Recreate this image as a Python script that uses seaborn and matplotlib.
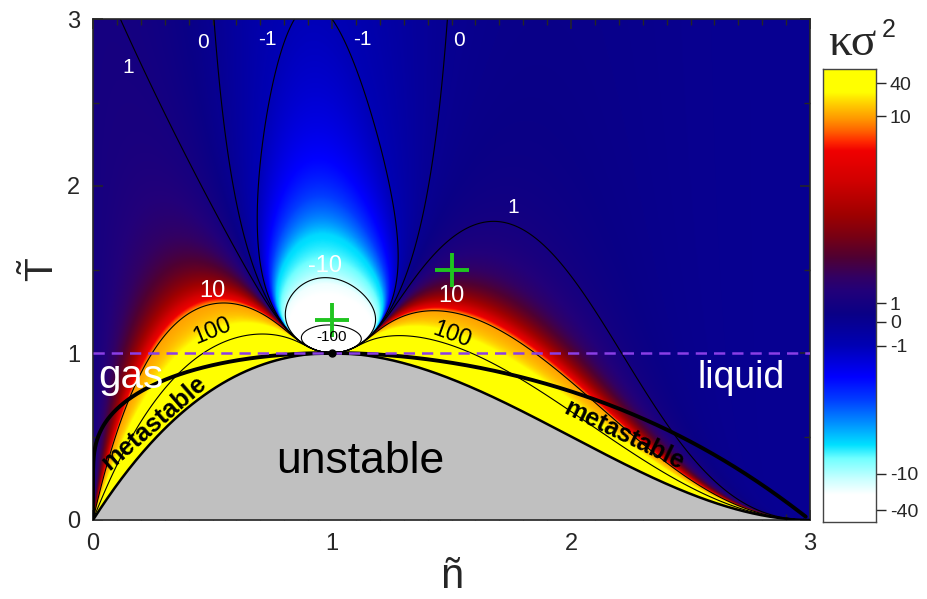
"""
Kurtosis (kappa sigma^2) of particle number fluctuations for the
van der Waals fluid in the reduced (n, T) plane
"""
import numpy as np
import pandas as pd
import seaborn as sns
import matplotlib
matplotlib.use('Agg')
import matplotlib.pyplot as plt
from matplotlib.colors import LinearSegmentedColormap

sns.set_style('ticks')
plt.rcParams['font.family'] = ['Liberation Sans', 'DejaVu Sans']
plt.rcParams['mathtext.fontset'] = 'custom'
plt.rcParams['mathtext.rm'] = 'Liberation Sans'

# contour levels drawn as thin black lines
contour_levels = [-100, -10, -1, 0, 1, 10, 100]

# non-linear colour bar: tick value -> position along the bar
cbar_values = [-50, -40, -10, -1, 0, 1, 10, 40, 53]
cbar_positions = [0.0, 0.026, 0.106, 0.389, 0.442, 0.483, 0.896, 0.969, 1.0]
cbar_ticks = [-40, -10, -1, 0, 1, 10, 40]

# colour used inside the map (the negative lobe is lighter than the bar suggests)
map_values = [-50, -12, -7.4, -4.2, -2.8, -1.4, -1, 0, 1, 10, 40, 53]
map_positions = [0.0, 0.07, 0.125, 0.175, 0.26, 0.36, 0.389, 0.442, 0.483, 0.896, 0.969, 1.0]

# colour stops
stop_pos = [0.0, 0.06, 0.095, 0.14, 0.17, 0.22, 0.27, 0.32, 0.39, 0.46,
            0.51, 0.54, 0.585, 0.63, 0.68, 0.755, 0.82, 0.84, 0.865, 0.89,
            0.92, 0.95, 1.0]
stop_col = ['#ffffff', '#ffffff', '#c8ffff', '#70ffff', '#00e0ff', '#008cff',
            '#003cff', '#0000ff', '#0000b4', '#0a0086', '#22007a', '#320064',
            '#500032', '#780014', '#a00000', '#d20000', '#f00000', '#ff2800',
            '#ff6400', '#ff9600', '#ffc800', '#ffff00', '#ffff00']

# marked points
cross_n = [1.0, 1.5]
cross_T = [1.2, 1.5]
critical_n = [1.0]
critical_T = [1.0]

contour_label_text = ['1', '0', '-1', '-1', '0', '1', '-10', '10', '10']
contour_label_dark = ['100', '100', '-100']


def kurtosis_vdw(n, T):
    # kappa sigma^2 = g'^2 + g g'' with g = n * omega, omega = [(1-n/3)^-2 - 9n/4T]^-1
    a = 1 - n / 3
    D = a ** -2 - 9 * n / (4 * T)
    D1 = (2 / 3) * a ** -3 - 9 / (4 * T)
    D2 = (2 / 3) * a ** -4
    g = n / D
    g1 = 1 / D - n * D1 / D ** 2
    g2 = -2 * D1 / D ** 2 - n * D2 / D ** 2 + 2 * n * D1 ** 2 / D ** 3
    return g1 ** 2 + g * g2


def p_vdw(n, T):
    return 8 * T * n / (3 - n) - 3 * n ** 2


def mu_vdw(n, T):
    return (8 * T / 3) * np.log(n / (3 - n)) + 8 * T / (3 - n) - 6 * n


def spinodal_T(n):
    return n * (3 - n) ** 2 / 4


def binodal(Tb):
    # spinodal densities for every T
    lo1, hi1 = np.zeros_like(Tb), np.ones_like(Tb)
    lo2, hi2 = np.ones_like(Tb), 3 * np.ones_like(Tb)
    for _ in range(80):
        m1 = (lo1 + hi1) / 2
        up = spinodal_T(m1) < Tb
        lo1, hi1 = np.where(up, m1, lo1), np.where(up, hi1, m1)
        m2 = (lo2 + hi2) / 2
        up = spinodal_T(m2) > Tb
        lo2, hi2 = np.where(up, m2, lo2), np.where(up, hi2, m2)
    n1, n2 = lo1, hi2
    pmax = p_vdw(n1, Tb)
    pmin = np.maximum(p_vdw(n2, Tb), 1e-300)

    def gas(p):
        lo, hi = np.full_like(Tb, np.log(1e-300)), np.log(n1)
        for _ in range(90):
            m = (lo + hi) / 2
            up = p_vdw(np.exp(m), Tb) < p
            lo, hi = np.where(up, m, lo), np.where(up, hi, m)
        return np.exp(lo)

    def liquid(p):
        lo, hi = n2.copy(), np.full_like(Tb, 3 - 1e-13)
        for _ in range(90):
            m = (lo + hi) / 2
            up = p_vdw(m, Tb) < p
            lo, hi = np.where(up, m, lo), np.where(up, hi, m)
        return lo

    # Maxwell construction: equal pressure and chemical potential
    lp, hp = np.log(pmin), np.log(pmax)
    for _ in range(90):
        mp = (lp + hp) / 2
        p = np.exp(mp)
        f = mu_vdw(gas(p), Tb) - mu_vdw(liquid(p), Tb)
        lp, hp = np.where(f < 0, mp, lp), np.where(f < 0, hp, mp)
    p = np.exp((lp + hp) / 2)
    return gas(p), liquid(p)


# field on a grid
n_grid = np.linspace(0.0005, 2.9995, 1200)
T_grid = np.linspace(0.0005, 3.0, 900)
NN, TT = np.meshgrid(n_grid, T_grid)
unstable = TT <= spinodal_T(NN)
with np.errstate(all='ignore'):
    K = kurtosis_vdw(NN, TT)
K[unstable] = np.nan
frac = np.interp(np.nan_to_num(K, nan=0.0), map_values, map_positions)
frac[unstable] = np.nan

my_cmap = LinearSegmentedColormap.from_list('kurt', list(zip(stop_pos, stop_col)), N=512)
my_cmap.set_bad('#c0c0c0')

# phase boundaries
Tb = np.linspace(0.02, 0.9995, 400)
ng, nl = binodal(Tb)
bino = pd.DataFrame({'n': np.concatenate([ng, [1.0], nl[::-1]]),
                     'T': np.concatenate([Tb, [1.0], Tb[::-1]])})
n_sp = np.linspace(0, 3, 600)
spin = pd.DataFrame({'n': n_sp, 'T': spinodal_T(n_sp)})

fig = plt.figure(figsize=(9.27, 5.99), dpi=100)
ax = fig.add_axes([93 / 927, 1 - 520 / 599, 717 / 927, 501 / 599])

ax.imshow(frac, cmap=my_cmap, vmin=0, vmax=1, origin='lower', extent=[0, 3, 0, 3],
          aspect='auto', interpolation='bilinear', zorder=0)
ax.fill_between(spin['n'], 0, spin['T'], color='#c0c0c0', lw=0, zorder=1)
ax.contour(NN, TT, K, levels=contour_levels, colors='k', linewidths=0.8, zorder=2)

sns.lineplot(data=spin, x='n', y='T', sort=False, estimator=None, color='k', lw=1.8, ax=ax, zorder=3)
sns.lineplot(data=bino, x='n', y='T', sort=False, estimator=None, color='k', lw=2.8, ax=ax, zorder=3)

ax.axhline(1.0, color='#8a3ee6', ls=(0, (4.5, 2.8)), lw=1.8, zorder=3)
ax.plot(critical_n, critical_T, 'o', color='k', ms=5, zorder=4)
ax.plot(cross_n, cross_T, '+', color='#1fc41f', ms=24, mew=2.8, zorder=5)

# contour labels
white_xy = [(0.146, 2.71), (0.46, 2.86), (0.73, 2.88), (1.125, 2.88), (1.53, 2.87),
            (1.76, 1.87), (0.97, 1.52), (0.50, 1.37), (1.50, 1.34)]
white_sz = [15, 15, 15, 15, 15, 15, 17, 17, 17]
for t, (x, y), s in zip(contour_label_text, white_xy, white_sz):
    ax.text(x, y, t, color='white', fontsize=s, ha='center', va='center', zorder=6)
dark_xy = [(0.50, 1.13), (1.50, 1.11), (1.0, 1.095)]
dark_rot = [22, -20, 0]
dark_sz = [17, 17, 11]
for t, (x, y), r, s in zip(contour_label_dark, dark_xy, dark_rot, dark_sz):
    ax.text(x, y, t, color='k', fontsize=s, ha='center', va='center', rotation=r, zorder=6)

ax.text(0.02, 0.855, 'gas', color='white', fontsize=29, ha='left', va='center', zorder=6)
ax.text(2.71, 0.85, 'liquid', color='white', fontsize=27, ha='center', va='center', zorder=6)
ax.text(1.12, 0.35, 'unstable', color='k', fontsize=32, ha='center', va='center', zorder=6)
ax.text(0.255, 0.58, 'metastable', color='k', fontsize=18, fontweight='bold',
        ha='center', va='center', rotation=41, zorder=6)
ax.text(2.22, 0.51, 'metastable', color='k', fontsize=18, fontweight='bold',
        ha='center', va='center', rotation=-26, zorder=6)

ax.set_xlim(0, 3)
ax.set_ylim(0, 3)
ax.set_xticks([0, 1, 2, 3])
ax.set_yticks([0, 1, 2, 3])
ax.set_xticks(np.arange(0, 3.01, 0.1), minor=True)
ax.set_yticks(np.arange(0, 3.01, 0.5), minor=True)
ax.tick_params(which='both', direction='in', top=True, right=True, labelsize=17, pad=9)
ax.tick_params(which='major', length=7, width=1.1)
ax.tick_params(which='minor', length=4, width=1.0)
for s in ax.spines.values():
    s.set_linewidth(1.2)
ax.set_xlabel('ñ', fontsize=30, labelpad=2)
ax.set_ylabel(r'$\tilde{\mathrm{T}}$', fontsize=28, labelpad=4)

# colour bar
cax = fig.add_axes([823 / 927, 1 - 522 / 599, 53 / 927, 453 / 599])
cax.imshow(np.linspace(0, 1, 512)[:, None], cmap=my_cmap, vmin=0, vmax=1, origin='lower',
           extent=[0, 1, 0, 1], aspect='auto')
cax.set_xticks([])
cax.yaxis.tick_right()
cax.set_yticks(np.interp(cbar_ticks, cbar_values, cbar_positions))
cax.set_yticklabels([str(v) for v in cbar_ticks])
cax.tick_params(axis='y', direction='out', length=7, width=1.0, labelsize=14, pad=3)
for s in cax.spines.values():
    s.set_linewidth(1.0)
    s.set_color('#444444')
fig.text(852 / 927, 1 - 44 / 599, 'κσ', fontsize=34, family='Liberation Serif',
         ha='center', va='center')
fig.text(882 / 927, 1 - 30 / 599, '2', fontsize=18, ha='left', va='center')

fig.savefig('out.png', dpi=100)
